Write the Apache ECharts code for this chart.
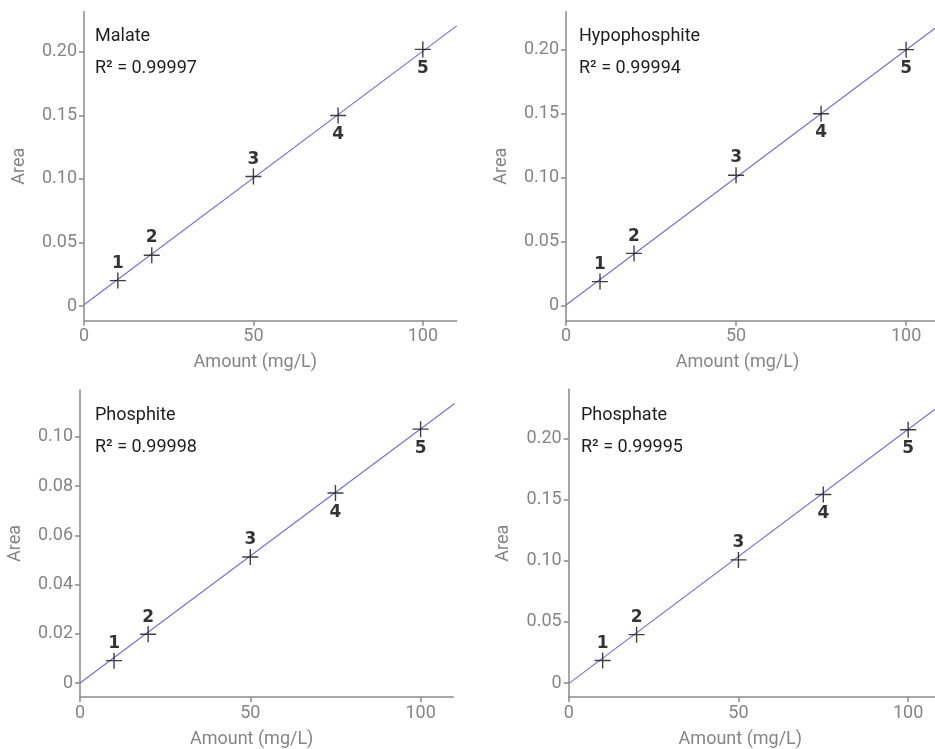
<!DOCTYPE html>
<html>
<head>
<meta charset="utf-8">
<script src="https://cdn.jsdelivr.net/npm/echarts@6/dist/echarts.min.js"></script>
<style>
html,body{margin:0;padding:0;background:#fff;}
#c{width:935px;height:749px;}
</style>
</head>
<body>
<div id="c"></div>
<script>
// ---- data ----
var amounts = [10, 20, 50, 75, 100];
var pointLabels = ['1', '2', '3', '4', '5'];
var malateArea = [0.020, 0.040, 0.102, 0.150, 0.202];
var hypophosphiteArea = [0.019, 0.041, 0.102, 0.150, 0.200];
var phosphiteArea = [0.0091, 0.0198, 0.0512, 0.0772, 0.1031];
var phosphateArea = [0.0184, 0.0396, 0.1007, 0.1542, 0.2071];
var malateFit = [[0, 0.001], [110, 0.2205]];
var hypophosphiteFit = [[0, 0.0008], [110, 0.2197]];
var phosphiteFit = [[0, 0.0], [110, 0.1135]];
var phosphateFit = [[0, -0.0005], [110, 0.2283]];
var names = ['Malate', 'Hypophosphite', 'Phosphite', 'Phosphate'];
var r2 = ['0.99997', '0.99994', '0.99998', '0.99995'];
var xTicks = [0, 50, 100];
var yTicksA = [0, 0.05, 0.10, 0.15, 0.20];
var yTicksB = [0, 0.02, 0.04, 0.06, 0.08, 0.10];

// ---- layout ----
var panels = [
  {area: malateArea, fit: malateFit, yTicks: yTicksA, grid: {left: 84, top: 11.7, right: 478.3, bottom: 428.3}, xMax: 110, yMin: -0.01157, yMax: 0.2317, title: {left: 90, top: 22}, nameShift: 30},
  {area: hypophosphiteArea, fit: hypophosphiteFit, yTicks: yTicksA, grid: {left: 566, top: 11.7, right: 0, bottom: 428.3}, xMax: 108.5, yMin: -0.0115, yMax: 0.2296, title: {left: 574, top: 22}, nameShift: 26},
  {area: phosphiteArea, fit: phosphiteFit, yTicks: yTicksB, grid: {left: 80, top: 390, right: 481.7, bottom: 50.7}, xMax: 109.6, yMin: -0.00566, yMax: 0.119, title: {left: 90, top: 401}, nameShift: 30},
  {area: phosphateArea, fit: phosphateFit, yTicks: yTicksA, grid: {left: 568.7, top: 389.3, right: 0, bottom: 50.7}, xMax: 107.9, yMin: -0.0114, yMax: 0.2402, title: {left: 576, top: 401}, nameShift: 23}
];

var axisColor = '#8a8a8a';
var labelColor = '#858585';
var font = 'Roboto';

var crossPath = 'path://M8,0L8,16M0,8L16,8';

var option = {
  animation: false,
  backgroundColor: '#ffffff',
  title: [], grid: [], xAxis: [], yAxis: [], series: []
};

panels.forEach(function (p, i) {
  option.title.push({
    text: names[i],
    subtext: 'R\u00b2 = ' + r2[i],
    left: p.title.left, top: p.title.top,
    itemGap: 14,
    textStyle: {fontFamily: font, fontSize: 18, fontWeight: 'normal', color: '#1e1e1e'},
    subtextStyle: {fontFamily: font, fontSize: 18, color: '#1e1e1e'}
  });
  option.grid.push({left: p.grid.left, top: p.grid.top, right: p.grid.right, bottom: p.grid.bottom, containLabel: false});
  option.xAxis.push({
    type: 'value', gridIndex: i, min: 0, max: p.xMax,
    name: 'Amount (mg/L)', nameLocation: 'middle', nameGap: 33,
    nameTextStyle: {fontFamily: font, fontSize: 18, color: labelColor, padding: [0, p.nameShift, 0, 0]},
    axisLine: {show: true, onZero: false, lineStyle: {color: axisColor, width: 1.5}},
    axisTick: {show: true, length: 5, lineStyle: {color: axisColor, width: 1.5}, customValues: xTicks},
    axisLabel: {fontFamily: font, fontSize: 18, color: labelColor, margin: 7, customValues: xTicks},
    splitLine: {show: false}
  });
  option.yAxis.push({
    type: 'value', gridIndex: i, min: p.yMin, max: p.yMax,
    name: 'Area', nameLocation: 'middle', nameGap: 56,
    nameTextStyle: {fontFamily: font, fontSize: 18, color: labelColor},
    axisLine: {show: true, onZero: false, lineStyle: {color: axisColor, width: 1.5}},
    axisTick: {show: true, length: 5, lineStyle: {color: axisColor, width: 1.5}, customValues: p.yTicks},
    axisLabel: {fontFamily: font, fontSize: 18, color: labelColor, margin: 7, customValues: p.yTicks,
      formatter: function (v) { return Math.abs(v) < 1e-9 ? '0' : v.toFixed(2); }},
    splitLine: {show: false}
  });
  option.series.push({
    type: 'line', xAxisIndex: i, yAxisIndex: i,
    data: p.fit, symbol: 'none', silent: true, clip: true,
    lineStyle: {color: '#6d72c9', width: 1.1}, z: 2
  });
  option.series.push({
    type: 'scatter', xAxisIndex: i, yAxisIndex: i,
    symbol: crossPath, symbolSize: 16,
    itemStyle: {color: 'rgba(0,0,0,0)', borderColor: '#111', borderWidth: 1.4},
    data: amounts.map(function (x, k) {
      return {
        value: [x, p.area[k]],
        label: {show: true, formatter: pointLabels[k], position: k < 3 ? 'top' : 'bottom', distance: k < 3 ? 0 : 2,
          fontFamily: 'DejaVu Sans', fontWeight: 'bold', fontSize: 17, color: '#000', textBorderWidth: 0}
      };
    }),
    z: 3
  });
});

var chart = echarts.init(document.getElementById('c'), null, {renderer: 'canvas'});
chart.setOption(option);
</script>
</body>
</html>
